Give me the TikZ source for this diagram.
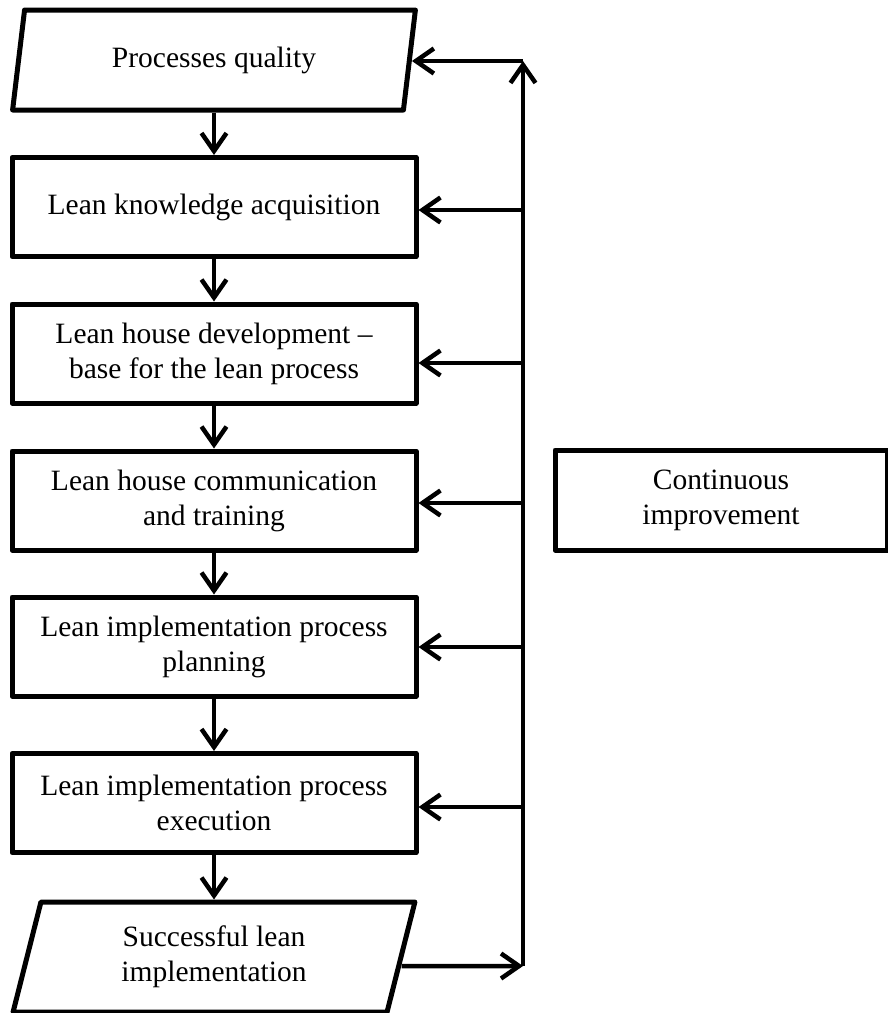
\documentclass[tikz,border=0pt]{standalone}
\usepackage{fontspec}
\setmainfont{Liberation Serif}
\usetikzlibrary{arrows.meta,shapes.geometric,calc}
\begin{document}
\begin{tikzpicture}[x=1pt,y=-1pt,
  txt/.style={align=center, font=\fontsize{29.5}{35}\selectfont, inner sep=0pt},
  box/.style={txt, draw, line width=5pt, line join=round, minimum width=404pt, minimum height=99pt},
  io/.style={txt, draw, line width=5pt, line join=round, trapezium, trapezium stretches=true,
     trapezium left angle=76.5, trapezium right angle=103.5, minimum width=403pt},
  arr/.style={line width=4.5pt, -{Straight Barb[length=18pt,width=25pt]}}]
\useasboundingbox (0,0) rectangle (888,1013);

\node[io, minimum height=100pt] (pq) at (214,60) {Processes quality};
\node[box] (b2) at (214,207) {Lean knowledge acquisition};
\node[box] (b3) at (214,353.5) {Lean house development –\\base for the lean process};
\node[box] (b4) at (214,500.5) {Lean house communication\\and training};
\node[box] (b5) at (214,646.5) {Lean implementation process\\planning};
\node[box] (b6) at (214,803) {Lean implementation process\\execution};
\node[io, minimum height=110pt] (sp) at (214,957) {Successful lean\\implementation};
\node[box, minimum width=332pt, minimum height=100pt] (ci) at (721,500) {Continuous\\improvement};

\coordinate (vt) at (523,61);
\coordinate (vb) at (523,966);
\coordinate (c2) at (523,210);
\coordinate (c3) at (523,363);
\coordinate (c4) at (523,503);
\coordinate (c5) at (523,647);
\coordinate (c6) at (523,807);

\draw[arr] (pq) -- (b2);
\draw[arr] (b2) -- (b3);
\draw[arr] (b3) -- (b4);
\draw[arr] (b4) -- (b5);
\draw[arr] (b5) -- (b6);
\draw[arr] (b6) -- (sp);

\draw[arr] ($(sp.east)+(-2,9)$) -- (vb);
\draw[arr] (vb) -- (vt);
\draw[arr] (vt) -- (vt -| pq.east);
\foreach \c/\b in {c2/b2,c3/b3,c4/b4,c5/b5,c6/b6}
  \draw[arr] (\c) -- (\c -| \b.east);
\end{tikzpicture}
\end{document}
